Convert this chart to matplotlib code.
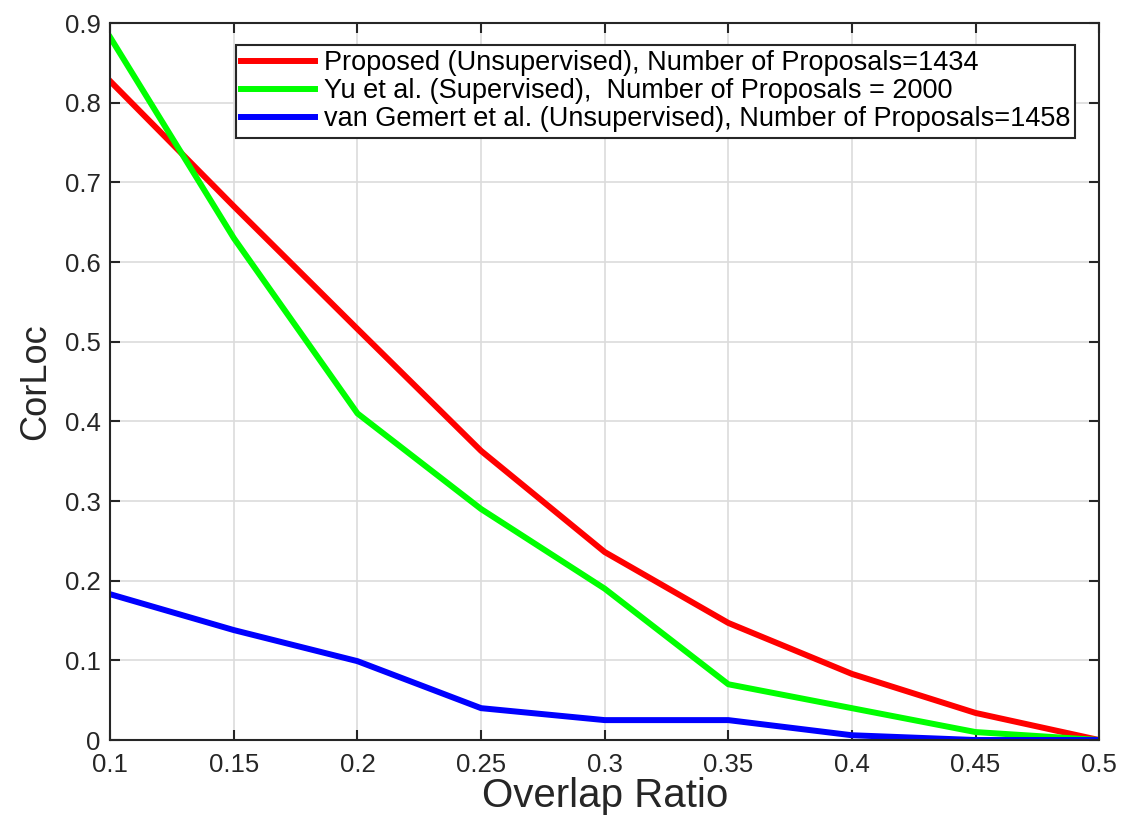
import matplotlib
matplotlib.use('Agg')
import matplotlib.pyplot as plt

plt.rcParams['font.family'] = ['Liberation Sans', 'DejaVu Sans']

# overlap thresholds on x axis
overlap = [0.1, 0.15, 0.2, 0.25, 0.3, 0.35, 0.4, 0.45, 0.5]

# CorLoc values
proposed = [0.827, 0.670, 0.516, 0.363, 0.236, 0.147, 0.083, 0.034, 0.0]
yu = [0.882, 0.630, 0.410, 0.290, 0.190, 0.070, 0.040, 0.010, 0.0]
van_gemert = [0.183, 0.138, 0.099, 0.040, 0.025, 0.025, 0.006, 0.0, 0.0]

labels = [
    'Proposed (Unsupervised), Number of Proposals=1434',
    'Yu et al. (Supervised),  Number of Proposals = 2000',
    'van Gemert et al. (Unsupervised), Number of Proposals=1458',
]

xticks = [0.1, 0.15, 0.2, 0.25, 0.3, 0.35, 0.4, 0.45, 0.5]
xticklabels = ['0.1', '0.15', '0.2', '0.25', '0.3', '0.35', '0.4', '0.45', '0.5']
yticks = [0, 0.1, 0.2, 0.3, 0.4, 0.5, 0.6, 0.7, 0.8, 0.9]
yticklabels = ['0', '0.1', '0.2', '0.3', '0.4', '0.5', '0.6', '0.7', '0.8', '0.9']

fig = plt.figure(figsize=(11.25, 8.25), dpi=100)
ax = fig.add_axes([0.098, 0.103, 0.879, 0.869])

ax.plot(overlap, proposed, color='#ff0000', lw=4.3, label=labels[0])
ax.plot(overlap, yu, color='#00ff00', lw=4.3, label=labels[1])
ax.plot(overlap, van_gemert, color='#0000ff', lw=4.3, label=labels[2])

ax.set_xlim(0.1, 0.5)
ax.set_ylim(0, 0.9)
ax.set_xticks(xticks)
ax.set_xticklabels(xticklabels)
ax.set_yticks(yticks)
ax.set_yticklabels(yticklabels)
ax.tick_params(direction='in', length=7, width=1.5, colors='#262626',
               labelsize=18.5, top=True, right=True)
ax.tick_params(axis='x', pad=9)
ax.tick_params(axis='y', pad=7)
ax.grid(True, color='#dcdcdc', lw=1.2)
for s in ax.spines.values():
    s.set_color('#262626')
    s.set_linewidth(1.5)

ax.set_xlabel('Overlap Ratio', fontsize=29, color='#262626', labelpad=0)
ax.set_ylabel('CorLoc', fontsize=26, color='#262626', labelpad=8)

leg = ax.legend(loc='upper right', bbox_to_anchor=(0.976, 0.97), fontsize=19.5,
                handlelength=2.75, handletextpad=0.3, borderpad=0.2,
                labelspacing=0.08, fancybox=False, framealpha=1,
                edgecolor='#262626', borderaxespad=0)
leg.get_frame().set_linewidth(1.5)

fig.savefig('out.png', dpi=100)
